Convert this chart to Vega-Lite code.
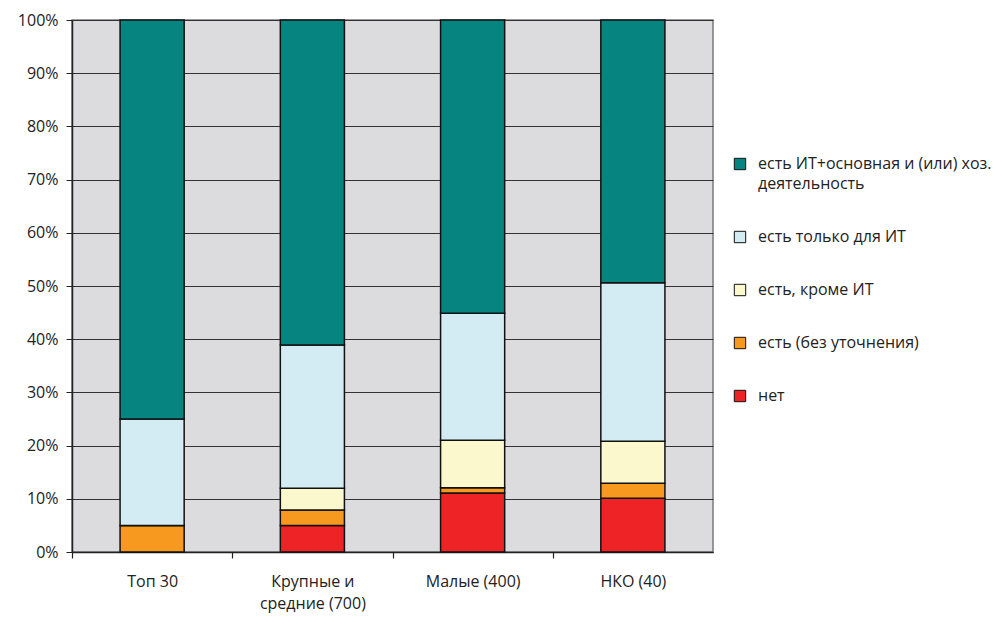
{
  "$schema": "https://vega.github.io/schema/vega-lite/v6.json",
  "width": 641,
  "height": 532,
  "autosize": "none",
  "padding": {"left": 72, "top": 20, "right": 291, "bottom": 78},
  "background": "white",
  "config": {
    "font": "Open Sans",
    "lineBreak": "\n",
    "view": {"fill": "#DCDCDE", "stroke": "#7a7a7a", "strokeWidth": 1.5},
    "axis": {"labelFont": "Open Sans", "labelColor": "#222", "labelFontSize": 16},
    "style": {"guide-label": {"lineHeight": 20}}
  },
  "data": {
    "values": [
      {"cat": "Топ 30", "s": "нет", "o": 1, "v": 0},
      {"cat": "Топ 30", "s": "есть (без уточнения)", "o": 2, "v": 5},
      {"cat": "Топ 30", "s": "есть, кроме ИТ", "o": 3, "v": 0},
      {"cat": "Топ 30", "s": "есть только для ИТ", "o": 4, "v": 20},
      {"cat": "Топ 30", "s": "есть ИТ+основная и (или) хоз.\nдеятельность", "o": 5, "v": 75},
      {"cat": "Крупные и\nсредние (700)", "s": "нет", "o": 1, "v": 5},
      {"cat": "Крупные и\nсредние (700)", "s": "есть (без уточнения)", "o": 2, "v": 2.9},
      {"cat": "Крупные и\nсредние (700)", "s": "есть, кроме ИТ", "o": 3, "v": 4.1},
      {"cat": "Крупные и\nсредние (700)", "s": "есть только для ИТ", "o": 4, "v": 26.9},
      {"cat": "Крупные и\nсредние (700)", "s": "есть ИТ+основная и (или) хоз.\nдеятельность", "o": 5, "v": 61.1},
      {"cat": "Малые (400)", "s": "нет", "o": 1, "v": 11.1},
      {"cat": "Малые (400)", "s": "есть (без уточнения)", "o": 2, "v": 1},
      {"cat": "Малые (400)", "s": "есть, кроме ИТ", "o": 3, "v": 8.9},
      {"cat": "Малые (400)", "s": "есть только для ИТ", "o": 4, "v": 23.9},
      {"cat": "Малые (400)", "s": "есть ИТ+основная и (или) хоз.\nдеятельность", "o": 5, "v": 55.1},
      {"cat": "НКО (40)", "s": "нет", "o": 1, "v": 10.1},
      {"cat": "НКО (40)", "s": "есть (без уточнения)", "o": 2, "v": 2.8},
      {"cat": "НКО (40)", "s": "есть, кроме ИТ", "o": 3, "v": 7.9},
      {"cat": "НКО (40)", "s": "есть только для ИТ", "o": 4, "v": 29.8},
      {"cat": "НКО (40)", "s": "есть ИТ+основная и (или) хоз.\nдеятельность", "o": 5, "v": 49.4}
    ]
  },
  "mark": {"type": "bar", "stroke": "#111", "strokeWidth": 1.5},
  "encoding": {
    "x": {
      "field": "cat",
      "type": "nominal",
      "sort": null,
      "title": null,
      "scale": {"paddingInner": 0.6, "paddingOuter": 0.3},
      "axis": {
        "labelAngle": 0,
        "ticks": true,
        "tickSize": 6,
        "tickOffset": -80,
        "labelOffset": 80,
        "tickColor": "#222",
        "tickWidth": 1.2,
        "domainColor": "#222",
        "domainWidth": 1.5,
        "labelPadding": 15,
        "labelLineHeight": 22,
        "labelBaseline": "top",
        "grid": false
      }
    },
    "y": {
      "field": "v",
      "type": "quantitative",
      "stack": "normalize",
      "title": null,
      "scale": {"domain": [0, 1], "nice": false},
      "axis": {
        "format": ".0%",
        "values": [0, 0.1, 0.2, 0.3, 0.4, 0.5, 0.6, 0.7, 0.8, 0.9, 1],
        "grid": true,
        "gridColor": "#333",
        "gridWidth": 1.2,
        "gridOpacity": 1,
        "tickSize": 6,
        "tickColor": "#222",
        "domainColor": "#222",
        "domainWidth": 1.5,
        "labelPadding": 8
      }
    },
    "color": {
      "field": "s",
      "type": "nominal",
      "sort": ["есть ИТ+основная и (или) хоз.\nдеятельность", "есть только для ИТ", "есть, кроме ИТ", "есть (без уточнения)", "нет"],
      "scale": {
        "domain": ["есть ИТ+основная и (или) хоз.\nдеятельность", "есть только для ИТ", "есть, кроме ИТ", "есть (без уточнения)", "нет"],
        "range": ["#058480", "#D3ECF3", "#FBF8CD", "#F7991E", "#EE2326"]
      },
      "legend": {
        "title": null,
        "orient": "none",
        "legendX": 660,
        "legendY": 136,
        "symbolType": "square",
        "symbolSize": 130,
        "symbolStrokeColor": "#111",
        "symbolStrokeWidth": 1,
        "symbolOpacity": 1,
        "labelFontSize": 16,
        "labelFont": "Open Sans",
        "labelColor": "#222",
        "labelOffset": 10,
        "labelLimit": 300,
        "rowPadding": 37
      }
    },
    "order": {"field": "o", "type": "quantitative"}
  }
}
